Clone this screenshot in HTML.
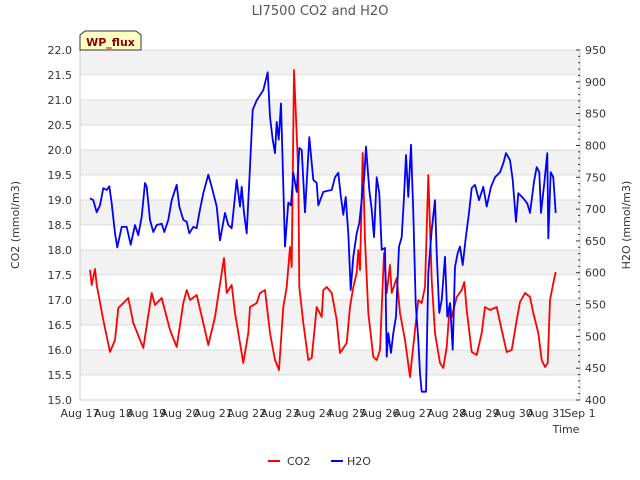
<!DOCTYPE html>
<html><head><meta charset="utf-8"><style>
body{margin:0;background:#fff;}
svg{display:block;font-family:"DejaVu Sans","Liberation Sans",sans-serif;}
</style></head><body>
<svg id="chart" width="640" height="480" viewBox="0 0 640 480">
<text x="320" y="15" text-anchor="middle" font-size="13" fill="#555">LI7500 CO2 and H2O</text>
<g id="bands"></g>
<g id="axes"></g>
<g id="series"></g>
<g>
<path d="M80,50 L80,35 L85,31 L136,31 L141,35 L141,50 Z" fill="#ffffc4" stroke="#333" stroke-width="1"/>
<text x="110.5" y="46" text-anchor="middle" font-size="11" font-weight="bold" fill="#8b0000">WP_flux</text>
</g>
<text x="19" y="225" transform="rotate(-90 19 225)" text-anchor="middle" font-size="11" fill="#333">CO2 (mmol/m3)</text>
<text x="630" y="225" transform="rotate(-90 630 225)" text-anchor="middle" font-size="11" fill="#333">H2O (mmol/m3)</text>
<text x="566" y="433" text-anchor="middle" font-size="11" fill="#333">Time</text>
<g>
<line x1="268" y1="461" x2="280" y2="461" stroke="#f00" stroke-width="2"/>
<text x="287" y="465" font-size="11" fill="#333">CO2</text>
<line x1="331" y1="461" x2="343" y2="461" stroke="#00f" stroke-width="2"/>
<text x="347" y="465" font-size="11" fill="#333">H2O</text>
</g>
</svg>
<script>
const xTickLabels=["Aug 17","Aug 18","Aug 19","Aug 20","Aug 21","Aug 22","Aug 23","Aug 24","Aug 25","Aug 26","Aug 27","Aug 28","Aug 29","Aug 30","Aug 31","Sep 1"];
const leftTicks=[15.0,15.5,16.0,16.5,17.0,17.5,18.0,18.5,19.0,19.5,20.0,20.5,21.0,21.5,22.0];
const rightTicks=[400,450,500,550,600,650,700,750,800,850,900,950];
const co2T=[0.3,0.35,0.45,0.5,0.7,0.9,1.05,1.15,1.45,1.6,1.9,2.15,2.25,2.45,2.7,2.9,3.1,3.2,3.3,3.5,3.7,3.85,4.05,4.15,4.32,4.4,4.55,4.65,4.9,5.05,5.1,5.3,5.4,5.55,5.7,5.85,5.97,6.1,6.2,6.3,6.35,6.42,6.55,6.58,6.7,6.85,6.95,7.1,7.25,7.3,7.4,7.55,7.7,7.8,8.0,8.1,8.2,8.3,8.35,8.4,8.48,8.55,8.65,8.8,8.9,9.0,9.12,9.2,9.3,9.35,9.5,9.6,9.75,9.9,10.05,10.15,10.25,10.35,10.45,10.55,10.65,10.8,10.9,11.0,11.1,11.15,11.3,11.45,11.53,11.6,11.75,11.9,12.05,12.15,12.3,12.5,12.65,12.8,12.95,13.1,13.2,13.35,13.5,13.6,13.75,13.85,13.95,14.03,14.1,14.2,14.27];
const co2V=[17.6,17.3,17.62,17.3,16.6,15.96,16.2,16.84,17.04,16.54,16.04,17.14,16.9,17.04,16.4,16.06,16.94,17.2,17.0,17.1,16.54,16.1,16.66,17.1,17.84,17.14,17.3,16.74,15.74,16.34,16.86,16.94,17.14,17.2,16.34,15.8,15.6,16.86,17.26,18.06,17.66,21.6,19.54,17.26,16.54,15.8,15.84,16.86,16.66,17.2,17.26,17.14,16.6,15.94,16.14,16.86,17.26,17.54,18.0,17.6,19.94,18.2,16.74,15.86,15.8,16.0,17.94,17.14,17.7,17.14,17.44,16.74,16.2,15.46,16.4,17.0,16.94,17.26,19.5,17.4,16.34,15.74,15.64,16.06,16.94,16.66,17.06,17.2,17.36,16.8,15.96,15.9,16.34,16.86,16.8,16.86,16.4,15.96,16.0,16.6,16.96,17.14,17.06,16.74,16.34,15.8,15.66,15.74,17.0,17.34,17.56];
const h2oT=[0.3,0.4,0.5,0.6,0.7,0.8,0.88,0.95,1.05,1.12,1.25,1.4,1.52,1.65,1.75,1.85,1.95,2.0,2.1,2.2,2.3,2.45,2.53,2.65,2.75,2.9,2.98,3.1,3.2,3.28,3.4,3.5,3.58,3.7,3.85,3.95,4.1,4.2,4.35,4.45,4.55,4.7,4.8,4.85,4.92,5.0,5.1,5.18,5.3,5.5,5.63,5.7,5.78,5.85,5.9,5.96,6.03,6.15,6.25,6.33,6.4,6.5,6.58,6.65,6.75,6.88,7.0,7.1,7.15,7.3,7.45,7.55,7.65,7.75,7.82,7.9,7.97,8.05,8.12,8.2,8.3,8.38,8.45,8.52,8.58,8.68,8.75,8.82,8.9,8.98,9.05,9.15,9.2,9.25,9.33,9.4,9.48,9.57,9.65,9.72,9.78,9.85,9.93,10.0,10.07,10.15,10.2,10.25,10.38,10.45,10.55,10.65,10.7,10.78,10.85,10.95,11.02,11.1,11.18,11.25,11.33,11.4,11.48,11.57,11.67,11.75,11.85,11.97,12.1,12.2,12.33,12.45,12.6,12.7,12.78,12.9,12.98,13.08,13.15,13.3,13.42,13.5,13.62,13.7,13.78,13.83,13.93,14.02,14.05,14.12,14.2,14.27];
const h2oV=[717,714,695,706,733,730,736,709,662,640,672,672,644,675,659,688,741,735,683,664,675,677,664,683,714,738,704,683,680,662,672,670,694,725,754,735,704,651,694,675,670,746,704,735,694,662,766,856,871,887,915,845,809,788,837,809,866,641,710,706,757,727,796,793,695,813,746,741,706,727,729,730,750,757,722,691,719,662,573,625,662,678,714,746,798,730,699,656,750,725,636,639,468,505,474,505,531,641,656,719,785,719,801,694,552,494,442,413,413,600,667,714,631,537,557,625,531,552,479,609,631,641,612,654,694,733,738,714,735,704,735,750,758,772,788,777,746,680,725,717,709,694,743,766,758,694,741,788,654,758,750,694];

const NS="http://www.w3.org/2000/svg";
const X0=80,X1=580,Y0=50,Y1=400;
const xS=t=>X0+(X1-X0)*t/15;
const yL=v=>Y1-(v-15)/7*(Y1-Y0);
const yR=v=>Y1-(v-400)/550*(Y1-Y0);
function mk(tag,attrs,parent){const e=document.createElementNS(NS,tag);for(const k in attrs)e.setAttribute(k,attrs[k]);parent.appendChild(e);return e;}
const bands=document.getElementById('bands'),axes=document.getElementById('axes'),series=document.getElementById('series');
const bg=mk('rect',{x:X0,y:Y0,width:X1-X0,height:Y1-Y0,fill:'#fff'},bands);


for(let i=0;i<leftTicks.length-1;i++){
  if(i%2===1){const r=mk('rect',{x:X0,y:yL(leftTicks[i+1]),width:X1-X0,height:yL(leftTicks[i])-yL(leftTicks[i+1]),fill:'#f2f2f2'},bands);
  
  }
}
leftTicks.forEach(v=>{
  const y=yL(v);
  const g=mk('line',{x1:X0,y1:y,x2:X1,y2:y,stroke:'#dcdcdc','stroke-width':1},bands);
  
  
  const t=mk('text',{x:72,y:y+4,'text-anchor':'end','font-size':11,fill:'#333'},axes);
  t.textContent=v.toFixed(1);
  
  
});
mk('line',{x1:X0,y1:Y0,x2:X0,y2:Y1,stroke:'#ccc'},axes);
mk('line',{x1:X0,y1:Y1,x2:X1,y2:Y1,stroke:'#ccc'},axes);
mk('line',{x1:X1,y1:Y0,x2:X1,y2:Y1,stroke:'#ccc'},axes);
for(let v=400;v<=950;v+=10){
  const y=yR(v);const major=v%50===0;
  mk('line',{x1:X1-(major?4:2),y1:y,x2:X1,y2:y,stroke:'#333'},axes);
}
rightTicks.forEach(v=>{
  const t=mk('text',{x:585,y:yR(v)+4,'font-size':11,fill:'#333'},axes);
  t.textContent=v;
  
  
});
xTickLabels.forEach((s,i)=>{
  const t=mk('text',{x:xS(i),y:417,'text-anchor':'middle','font-size':11,fill:'#333'},axes);
  t.textContent=s;
  
  
});
function line(T,V,ys,color,name){
  const d=T.map((t,i)=>(i?'L':'M')+xS(t).toFixed(1)+','+ys(V[i]).toFixed(1)).join('');
  const p=mk('path',{d:d,fill:'none',stroke:color,'stroke-width':1.8,'stroke-linejoin':'round'},series);
  
  
}
line(co2T,co2V,yL,'#f00','co2-line');
line(h2oT,h2oV,yR,'#00f','h2o-line');
</script>
</body></html>
